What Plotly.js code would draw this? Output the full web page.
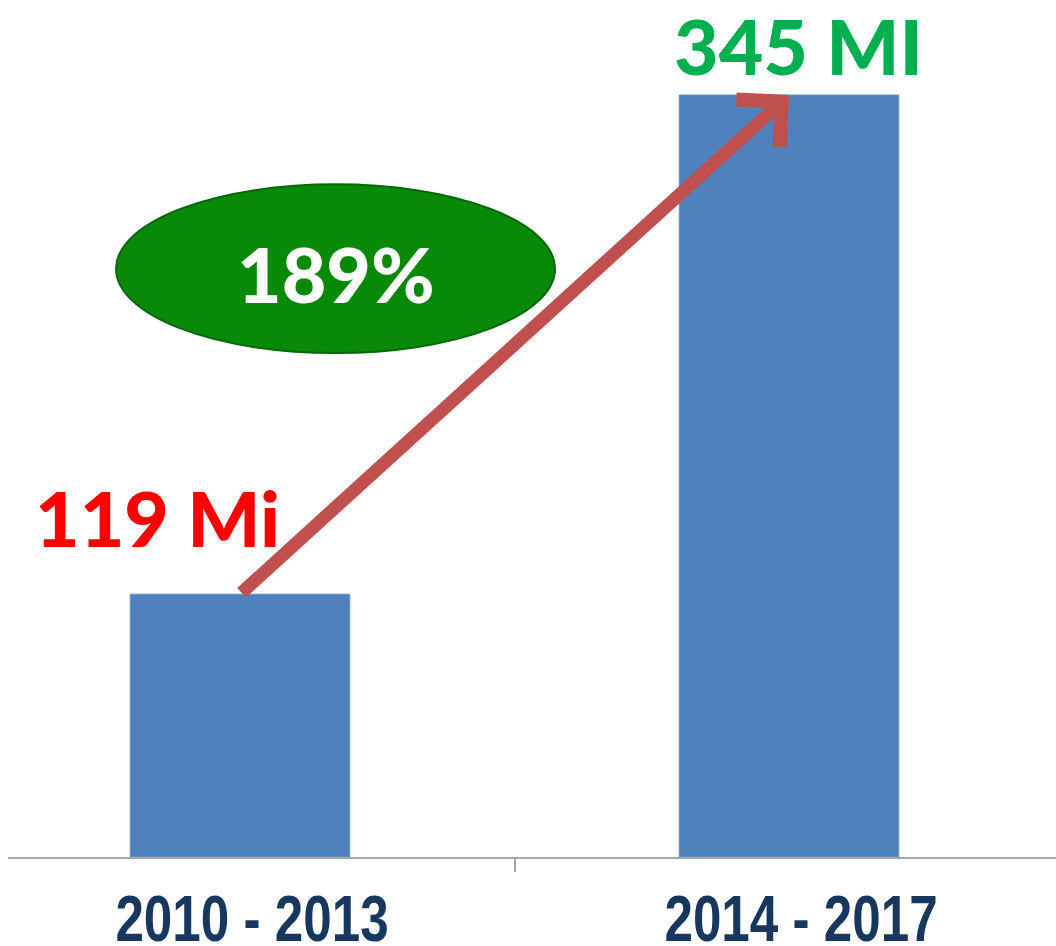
<!DOCTYPE html>
<html>
<head>
<meta charset="utf-8">
<script src="https://cdn.plot.ly/plotly-3.0.1.min.js"></script>
<style>html,body{margin:0;padding:0;background:#fff;}#chart{width:1056px;height:946px;}</style>
</head>
<body>
<div id="chart"></div>
<script>
const categories = ["2010 - 2013", "2014 - 2017"];
const values = [119, 345];
const valueLabels = ["119 Mi", "345 MI"];
const growthLabel = "189%";

const trace = {
  type: "bar",
  x: categories,
  y: values,
  width: 0.4,
  marker: {color: "#4f81bd", line: {color: "#6a93c8", width: 1}},
  hoverinfo: "skip"
};

const layout = {
  width: 1056, height: 946,
  margin: {l: 8, r: 0, t: 0, b: 89},
  paper_bgcolor: "#ffffff",
  plot_bgcolor: "#ffffff",
  showlegend: false,
  xaxis: {
    type: "category",
    range: [-0.4226, 1.4863],
    showline: true, linecolor: "#a6a6a6", linewidth: 2,
    ticks: "outside", tickson: "boundaries", ticklen: 13, tickcolor: "#a6a6a6", tickwidth: 2,
    showgrid: false, zeroline: false,
    tickfont: {family: "Liberation Sans, Arial, sans-serif", size: 64, color: "#17375e", weight: "bold"},
    ticklabelshift: 12,
    ticklabelstandoff: 5
  },
  yaxis: {
    range: [0, 388],
    visible: false, showgrid: false, zeroline: false
  },
  shapes: [{
    type: "circle", xref: "paper", yref: "paper",
    x0: 0.1031, x1: 0.522, y0: 0.588, y1: 0.785,
    fillcolor: "#088a08",
    line: {color: "#066806", width: 2}
  }],
  annotations: [
    {
      xref: "x", yref: "y", x: categories[1], y: values[1],
      axref: "x", ayref: "y", ax: categories[0], ay: values[0],
      text: "", showarrow: true, arrowhead: 4, arrowsize: 0.95, arrowwidth: 13,
      arrowcolor: "#c0504d", standoff: 0, startstandoff: 0
    },
    {
      xref: "x", yref: "y", x: categories[0], y: values[0],
      text: valueLabels[0], showarrow: false, xanchor: "center", yanchor: "middle",
      xshift: -83, yshift: 77,
      font: {family: "Lato, Open Sans, sans-serif", size: 77, color: "#ff0000", weight: 900}
    },
    {
      xref: "x", yref: "y", x: categories[1], y: values[1],
      text: valueLabels[1], showarrow: false, xanchor: "center", yanchor: "middle",
      xshift: 9, yshift: 50,
      font: {family: "Lato, Open Sans, sans-serif", size: 77, color: "#00b050", weight: 900}
    },
    {
      xref: "paper", yref: "paper", x: 0.3125, y: 0.682,
      text: growthLabel, showarrow: false, xanchor: "center", yanchor: "middle",
      font: {family: "Lato, Open Sans, sans-serif", size: 77, color: "#ffffff", weight: 900}
    }
  ]
};

Plotly.newPlot("chart", [trace], layout, {displayModeBar: false, staticPlot: true}).then(function (gd) {
  // narrow the tick labels horizontally to mimic a condensed typeface
  gd.querySelectorAll(".xtick text").forEach(function (t) {
    const bb = t.getBBox();
    const cx = bb.x + bb.width / 2;
    const tr = t.getAttribute("transform") || "";
    t.setAttribute("transform", tr + " translate(" + cx + ",0) scale(0.8,1) translate(" + (-cx) + ",0)");
  });
});
</script>
</body>
</html>
